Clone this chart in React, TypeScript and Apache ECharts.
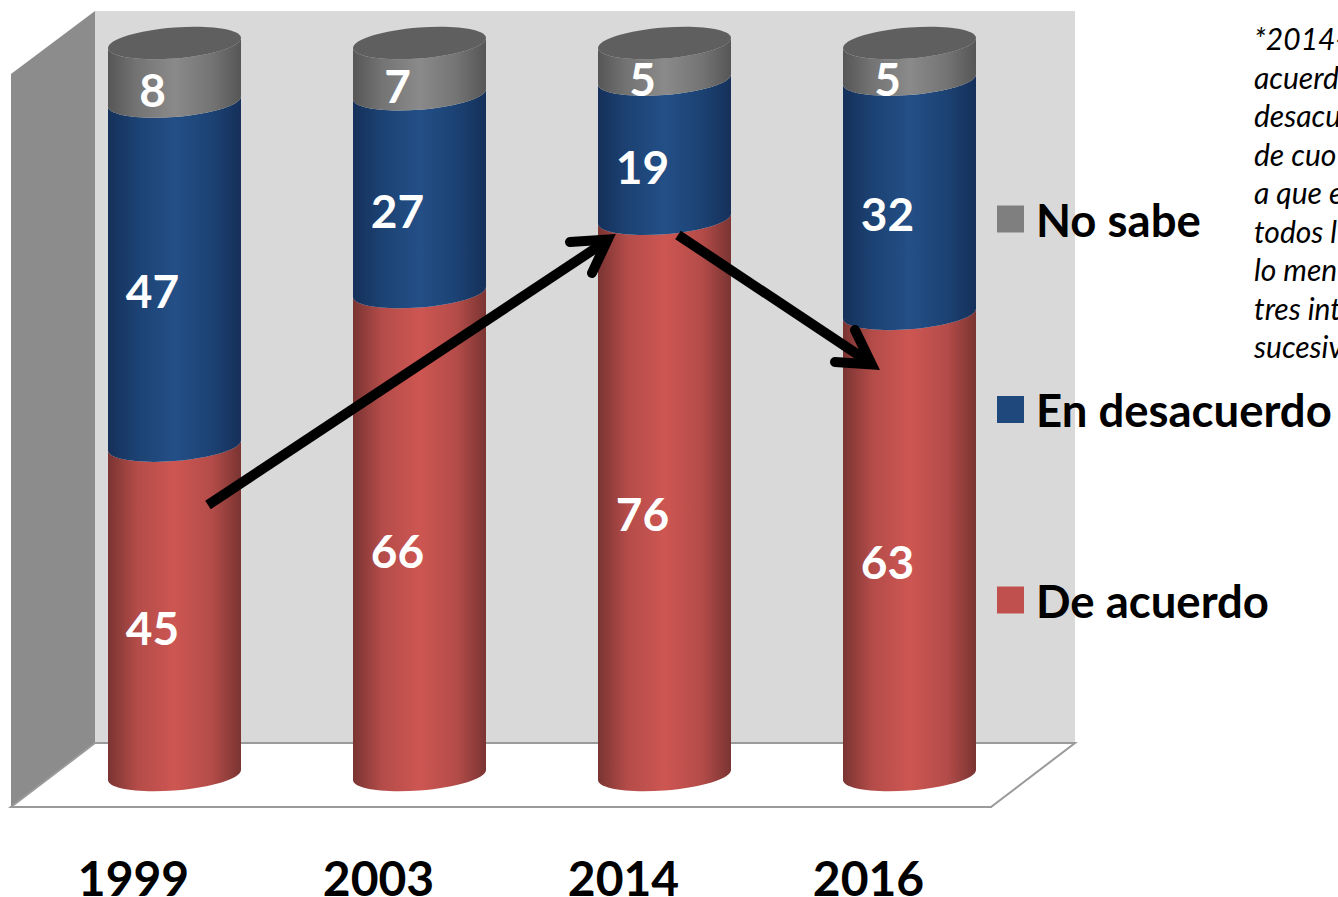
import React, { useEffect, useRef } from "react";
import * as echarts from "echarts";

const categories = ["1999", "2003", "2014", "2016"];
const deAcuerdo = [45, 66, 76, 63];
const enDesacuerdo = [47, 27, 19, 32];
const noSabe = [8, 7, 5, 5];
const noteLines = ["*2014-", "acuerd", "desacu", "de cuo", "a que e", "todos l", "lo men", "tres int", "sucesiv"];

const FONT = "Lato, Carlito, sans-serif";
const DEPTH_X = 41;
const DEPTH_Y = -32;
const TILT = 5;
const RY = 15.5;
const K = 0.5523;

function shade(edge: string, mid: string, soft: string) {
  return {
    type: "linear", x: 0, y: 0, x2: 1, y2: 0,
    colorStops: [
      { offset: 0, color: edge },
      { offset: 0.22, color: soft },
      { offset: 0.5, color: mid },
      { offset: 0.78, color: soft },
      { offset: 1, color: edge },
    ],
  };
}

// Front half of a tilted ellipse centred on (cx, cy), left to right through its lowest part.
function frontLeftToRight(cx: number, cy: number, rx: number) {
  const bx = cx;
  const by = cy + RY;
  return (
    `C${cx - rx} ${cy + TILT + K * RY} ${bx - K * rx} ${by + K * TILT} ${bx} ${by}` +
    `C${bx + K * rx} ${by - K * TILT} ${cx + rx} ${cy - TILT + K * RY} ${cx + rx} ${cy - TILT}`
  );
}

// The same curve, walked right to left.
function frontRightToLeft(cx: number, cy: number, rx: number) {
  const bx = cx;
  const by = cy + RY;
  return (
    `C${cx + rx} ${cy - TILT + K * RY} ${bx + K * rx} ${by - K * TILT} ${bx} ${by}` +
    `C${bx - K * rx} ${by + K * TILT} ${cx - rx} ${cy + TILT + K * RY} ${cx - rx} ${cy + TILT}`
  );
}

// Back half of the ellipse, right to left through its highest part.
function backRightToLeft(cx: number, cy: number, rx: number) {
  const tx = cx;
  const ty = cy - RY;
  return (
    `C${cx + rx} ${cy - TILT - K * RY} ${tx + K * rx} ${ty - K * TILT} ${tx} ${ty}` +
    `C${tx - K * rx} ${ty + K * TILT} ${cx - rx} ${cy + TILT - K * RY} ${cx - rx} ${cy + TILT}`
  );
}

function buildSeries(name: string, color: string, values: number[], below: number[], fill: any, withCap: boolean) {
  return {
    name,
    type: "custom",
    itemStyle: { color },
    encode: { x: 0, y: [1, 2] },
    data: values.map((v, i) => [i, below[i], below[i] + v, v]),
    renderItem: (_p: any, api: any) => {
      const idx = api.value(0);
      const lo = api.coord([idx, api.value(1)]);
      const hi = api.coord([idx, api.value(2)]);
      const rx = api.size([1, 0])[0] * 0.2714;
      const cx = lo[0] + DEPTH_X;
      const yB = lo[1] + DEPTH_Y;
      const yT = hi[1] + DEPTH_Y;
      const ext = Math.hypot(TILT, RY);
      const l = cx - rx;
      const r = cx + rx;
      const d =
        `M${l} ${yT + TILT}L${l} ${yB + TILT}` +
        frontLeftToRight(cx, yB, rx) +
        `L${r} ${yT - TILT}` +
        frontRightToLeft(cx, yT, rx) +
        "Z";
      const children: any[] = [
        {
          type: "path",
          shape: { pathData: d, layout: "cover", x: l, y: yT - TILT, width: r - l, height: yB + ext - (yT - TILT) },
          style: { fill },
        },
      ];
      if (withCap) {
        const cap = `M${l} ${yT + TILT}` + frontLeftToRight(cx, yT, rx) + backRightToLeft(cx, yT, rx) + "Z";
        children.push({
          type: "path",
          shape: { pathData: cap, layout: "cover", x: l, y: yT - ext, width: r - l, height: 2 * ext },
          style: { fill: "#5f5f5f" },
        });
      }
      children.push({
        type: "text",
        z2: 10,
        style: {
          text: String(api.value(3)),
          x: cx - 22,
          y: (yB + yT) / 2 + 17,
          fill: "#ffffff",
          font: `700 46px ${FONT}`,
          align: "center",
          verticalAlign: "middle",
        },
      });
      return { type: "group", children };
    },
  };
}

export default function App() {
  const ref = useRef<HTMLDivElement>(null);
  useEffect(() => {
    document.body.style.margin = "0";
    const chart = echarts.init(ref.current!, undefined, { renderer: "svg" });
    const zeros = categories.map(() => 0);
    const stackA = deAcuerdo.slice();
    const stackB = deAcuerdo.map((v, i) => v + enDesacuerdo[i]);
    const shaft = { stroke: "#000000", lineWidth: 10, fill: "none", lineCap: "butt" };
    const head = { stroke: "#000000", lineWidth: 10, fill: "none", lineCap: "round", lineJoin: "miter", miterLimit: 10 };
    chart.setOption({
      animation: false,
      backgroundColor: "#ffffff",
      grid: { left: 11, top: 75, width: 980, height: 732, outerBoundsMode: "none" },
      xAxis: {
        type: "category",
        data: categories,
        axisLine: { show: true, lineStyle: { color: "#9a9a9a", width: 2 } },
        axisTick: { show: false },
        axisLabel: {
          margin: 51,
          color: "#000000",
          fontFamily: FONT,
          fontWeight: 700,
          fontSize: 48,
          lineHeight: 38,
        },
      },
      yAxis: { type: "value", min: 0, max: 100, show: false },
      legend: {
        orient: "vertical",
        left: 997,
        top: 192,
        padding: 0,
        itemGap: 136.5,
        itemWidth: 27,
        itemHeight: 27,
        icon: "rect",
        data: ["No sabe", "En desacuerdo", "De acuerdo"],
        textStyle: {
          color: "#000000",
          fontFamily: FONT,
          fontWeight: 700,
          fontSize: 45.5,
          lineHeight: 40,
          padding: [0, 0, 14, 7],
        },
      },
      graphic: [
        { type: "rect", z: 0, shape: { x: 95, y: 11, width: 980, height: 732 }, style: { fill: "#d9d9d9" } },
        { type: "polygon", z: 0, shape: { points: [[11, 74], [95, 11], [95, 743], [11, 807]] }, style: { fill: "#8c8c8c" } },
        { type: "polygon", z: 0, shape: { points: [[95, 743], [1075, 743], [991, 807], [11, 807]] }, style: { fill: "#ffffff", stroke: "#9a9a9a", lineWidth: 2 } },
        { type: "polyline", z: 100, shape: { points: [[208, 505], [608, 240]] }, style: shaft },
        { type: "polyline", z: 100, shape: { points: [[570, 242], [607.7, 239.5], [592, 273]] }, style: head },
        { type: "polyline", z: 100, shape: { points: [[678, 235], [872, 364]] }, style: shaft },
        { type: "polyline", z: 100, shape: { points: [[835, 362], [871.7, 364.4], [855, 330]] }, style: head },
        ...noteLines.map((t, i) => ({
          type: "text",
          z: 100,
          style: {
            text: t,
            x: 1254,
            y: 38 + i * 38.5,
            fill: "#000000",
            font: `italic 400 30px ${FONT}`,
            verticalAlign: "middle",
          },
        })),
      ],
      series: [
        buildSeries("De acuerdo", "#c0504d", deAcuerdo, zeros, shade("#7a3432", "#cd5652", "#b44c49"), false),
        buildSeries("En desacuerdo", "#1f497d", enDesacuerdo, stackA, shade("#15305a", "#234f87", "#1c4273"), false),
        buildSeries("No sabe", "#7f7f7f", noSabe, stackB, shade("#565656", "#8a8a8a", "#747474"), true),
      ],
    });
    return () => chart.dispose();
  }, []);
  return <div ref={ref} style={{ width: 1338, height: 897, overflow: "hidden" }} />;
}
